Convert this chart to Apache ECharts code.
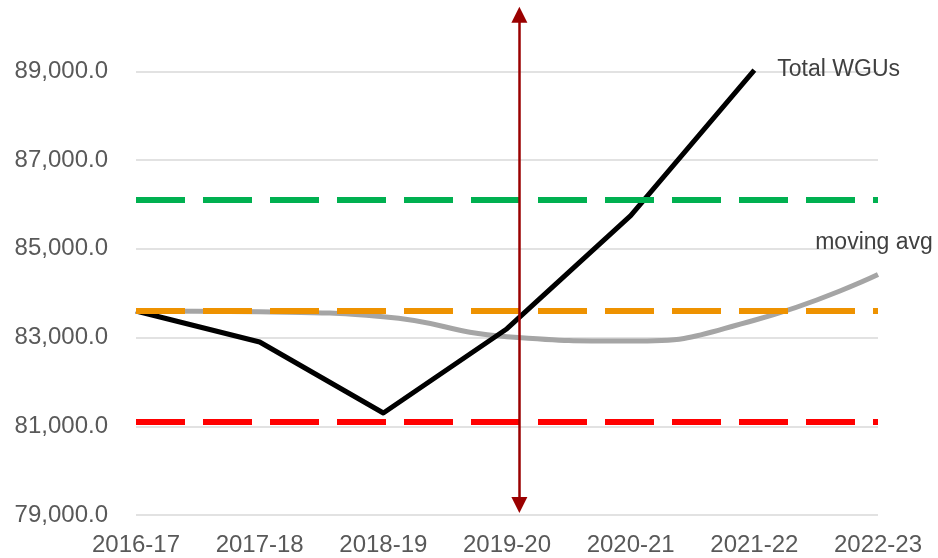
<!DOCTYPE html>
<html>
<head>
<meta charset="utf-8">
<script src="https://cdn.jsdelivr.net/npm/echarts@6/dist/echarts.min.js"></script>
<style>
html,body{margin:0;padding:0;background:#fff;}
#chart{width:938px;height:558px;}
</style>
</head>
<body>
<div id="chart"></div>
<script>
// ---- data ----
const categories = ['2016-17','2017-18','2018-19','2019-20','2020-21','2021-22','2022-23'];
const totalWGUs = [83600, 82900, 81300, 83200, 85750, 89030];
const movingAvg = [83600, 83580, 83470, 83020, 82920, 83390, 84420];
const upperThreshold = 86100;   // green dashed
const middleThreshold = 83600;  // orange dashed
const lowerThreshold = 81100;   // red dashed
const arrowX = 3.1;             // position along the category index scale
const arrowY = [79225, 90275];  // arrow end points
const yTicks = {min: 79000, max: 90610, interval: 2000};

const fmt = v => {
  if ((v - yTicks.min) % yTicks.interval !== 0) return '';
  const s = Math.round(v).toString().replace(/\B(?=(\d{3})+(?!\d))/g, ',');
  return s + '.0';
};

function withEndLabel(arr, text, labelOpt) {
  return arr.map((v, i) => i === arr.length - 1
    ? {value: v, label: Object.assign({show: true, formatter: text, color: '#404040', fontSize: 23, fontFamily: 'Liberation Sans, Arial, sans-serif'}, labelOpt)}
    : v);
}

const chart = echarts.init(document.getElementById('chart'), null, {renderer: 'canvas'});
chart.setOption({
  animation: false,
  backgroundColor: '#ffffff',
  grid: {left: 136, right: 60, top: 0, bottom: 43, containLabel: false},
  xAxis: [{
    type: 'category',
    data: categories,
    boundaryGap: false,
    axisLine: {show: false},
    axisTick: {show: false},
    splitLine: {show: false},
    axisLabel: {color: '#595959', fontSize: 24, margin: 18, fontFamily: 'Liberation Sans, Arial, sans-serif', interval: 0}
  }, {
    type: 'value',
    min: 0, max: categories.length - 1,
    show: false
  }],
  yAxis: {
    type: 'value',
    min: yTicks.min, max: yTicks.max, interval: yTicks.interval,
    axisLine: {show: false},
    axisTick: {show: false},
    splitLine: {showMaxLine: false, lineStyle: {color: '#D9D9D9', width: 1.5}},
    axisLabel: {showMaxLabel: false, color: '#595959', fontSize: 24, margin: 28, fontFamily: 'Liberation Sans, Arial, sans-serif', formatter: fmt}
  },
  series: [
    {
      name: 'thresholds',
      type: 'line',
      data: [],
      z: 1,
      markLine: {
        silent: true,
        symbol: ['none', 'none'],
        label: {show: false},
        data: [
          {yAxis: upperThreshold, lineStyle: {color: '#00B050', width: 6, type: [49, 18]}},
          {yAxis: middleThreshold, lineStyle: {color: '#EE9200', width: 6, type: [49, 18]}},
          {yAxis: lowerThreshold, lineStyle: {color: '#FF0000', width: 6, type: [49, 18]}}
        ]
      }
    },
    {
      name: 'moving avg',
      type: 'line',
      data: withEndLabel(movingAvg, 'moving avg', {position: 'top', distance: 20, offset: [-4, 0]}),
      smooth: 0.5,
      showSymbol: true,
      symbolSize: 0,
      lineStyle: {color: '#A5A5A5', width: 5},
      itemStyle: {color: '#A5A5A5'},
      z: 3
    },
    {
      name: 'Total WGUs',
      type: 'line',
      data: withEndLabel(totalWGUs, 'Total WGUs', {position: 'right', distance: 23}),
      showSymbol: true,
      symbolSize: 0,
      lineStyle: {color: '#000000', width: 5, join: 'round'},
      itemStyle: {color: '#000000'},
      z: 4
    },
    {
      name: 'arrow',
      type: 'line',
      xAxisIndex: 1,
      data: [],
      z: 5,
      markLine: {
        silent: true,
        symbol: ['triangle', 'triangle'],
        symbolSize: 16,
        label: {show: false},
        lineStyle: {color: '#9A0000', width: 2.5, type: 'solid'},
        data: [[{coord: [arrowX, arrowY[0]]}, {coord: [arrowX, arrowY[1]]}]]
      }
    }
  ]
});
</script>
</body>
</html>
